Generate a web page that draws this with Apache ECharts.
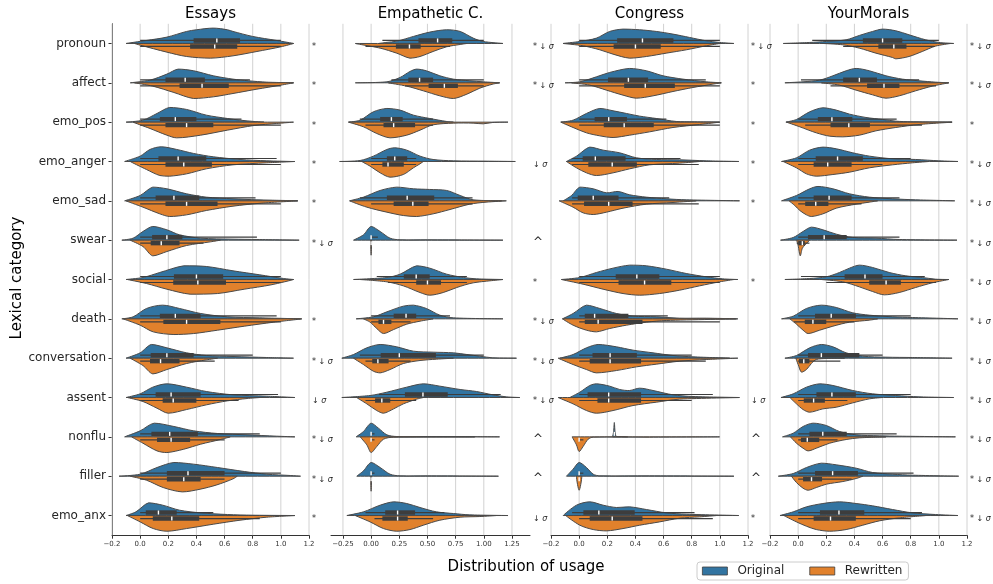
<!DOCTYPE html>
<html><head><meta charset="utf-8">
<script src="https://cdn.jsdelivr.net/npm/echarts@6/dist/echarts.min.js"></script>
<style>html,body{margin:0;padding:0;background:#fff}#c{width:993px;height:584px}</style>
</head><body><div id="c"></div><script>
const categories = ['pronoun','affect','emo_pos','emo_anger','emo_sad','swear','social','death','conversation','assent','nonflu','filler','emo_anx'];
const panelTitles = ['Essays','Empathetic C.','Congress','YourMorals'];
const xTicks = [
  [-0.2,0,0.2,0.4,0.6,0.8,1.0,1.2],
  [-0.25,0,0.25,0.5,0.75,1.0,1.25],
  [-0.2,0,0.2,0.4,0.6,0.8,1.0,1.2],
  [-0.2,0,0.2,0.4,0.6,0.8,1.0,1.2]
];
const xLimits = [[-0.2,1.2],[-0.356,1.41],[-0.2,1.2],[-0.2,1.2]];
const xDecimals = [1,2,1,1];
const legendNames = ['Original','Rewritten'];
const xTitle = 'Distribution of usage';
const yTitle = 'Lexical category';

// half-violin outlines: [value, density] (density in units where one category band = 117.75)
const essaysOrig = [
 [[-0.1,0],[0.045,9],[0.19,19],[0.33,36],[0.4,41],[0.52,46],[0.62,41],[0.66,36],[0.8,21],[0.97,9],[1.09,0]],
 [[-0.07,0],[0.07,8],[0.19,26],[0.27,41],[0.38,36],[0.52,21],[0.66,11],[0.77,6],[0.9,2],[1.09,0]],
 [[-0.1,0],[0.02,6],[0.12,26],[0.21,44],[0.33,38],[0.47,21],[0.62,11],[0.71,6],[0.81,2],[0.88,0]],
 [[-0.11,0],[0,16],[0.07,36],[0.15,44],[0.26,36],[0.38,24],[0.52,14],[0.71,6],[0.9,2],[1.07,0]],
 [[-0.11,0],[0,16],[0.09,41],[0.19,36],[0.33,21],[0.47,11],[0.66,6],[0.83,3],[0.93,2],[1.12,0]],
 [[-0.13,0],[-0.05,6],[0.02,26],[0.09,41],[0.19,31],[0.28,16],[0.43,6],[0.66,3],[0.83,2],[1.13,0]],
 [[-0.1,0],[0.02,6],[0.14,21],[0.31,41],[0.47,39],[0.66,26],[0.85,14],[1.02,3],[1.09,0]],
 [[-0.13,0],[-0.05,6],[0.045,31],[0.16,41],[0.28,31],[0.43,16],[0.62,6],[0.85,3],[1.14,0]],
 [[-0.1,0],[0,16],[0.08,41],[0.19,31],[0.33,16],[0.47,8],[0.66,5],[0.9,2],[1.09,0]],
 [[-0.1,0],[0,11],[0.09,31],[0.19,41],[0.33,31],[0.47,18],[0.66,8],[0.9,4],[1.1,0]],
 [[-0.11,0],[0,18],[0.1,41],[0.24,31],[0.38,18],[0.55,10],[0.76,6],[0.97,2],[1.1,0]],
 [[-0.15,0],[0,6],[0.12,26],[0.24,41],[0.38,36],[0.55,26],[0.74,14],[0.9,6],[1.07,2],[1.14,0]],
 [[-0.1,0],[-0.03,11],[0.06,38],[0.16,31],[0.28,16],[0.43,8],[0.62,3],[0.8,1],[1.1,0]]
];
const essaysRew = [
 [[-0.04,0],[0,5],[0.19,26],[0.33,39],[0.5,44],[0.66,37],[0.83,24],[1.0,10],[1.09,0]],
 [[-0.04,0],[0.09,10],[0.24,29],[0.38,47],[0.52,42],[0.66,32],[0.83,19],[1.0,7],[1.09,0]],
 [[-0.05,0],[0.07,19],[0.19,39],[0.26,47],[0.43,39],[0.62,24],[0.81,10],[0.97,4],[1.09,0]],
 [[-0.07,0],[0.045,24],[0.14,42],[0.21,44],[0.33,37],[0.47,22],[0.66,10],[0.9,4],[1.1,0]],
 [[-0.1,0],[0.02,19],[0.14,39],[0.21,47],[0.33,42],[0.47,29],[0.66,16],[0.86,7],[1.12,0]],
 [[-0.07,0],[0.02,19],[0.09,47],[0.19,34],[0.33,16],[0.5,5],[0.57,0]],
 [[-0.09,0],[0.045,12],[0.19,29],[0.355,44],[0.55,42],[0.74,29],[0.93,16],[1.09,0]],
 [[-0.12,0],[0,19],[0.093,39],[0.24,47],[0.38,44],[0.55,34],[0.74,22],[0.95,10],[1.15,0]],
 [[-0.07,0],[0.02,22],[0.09,47],[0.19,34],[0.33,16],[0.47,5],[0.55,0]],
 [[-0.09,0],[0.02,12],[0.12,32],[0.2,47],[0.33,36],[0.47,22],[0.62,10],[0.76,3],[0.85,0]],
 [[-0.06,0],[0.02,19],[0.12,42],[0.19,47],[0.31,37],[0.43,22],[0.57,8],[0.64,0]],
 [[-0.07,0],[0.045,12],[0.164,34],[0.3,47],[0.426,39],[0.545,26],[0.66,8],[0.69,0]],
 [[-0.09,0],[0,19],[0.093,39],[0.19,47],[0.33,39],[0.52,26],[0.71,14],[0.9,5],[1.1,0]]
];
// boxes: [whisker low, q1, median, q3, whisker high]
const essaysOrigBox = [[0,0.38,0.545,0.71,1.0],[0,0.18,0.32,0.46,0.78],[0,0.14,0.25,0.4,0.72],[0,0.13,0.27,0.47,0.97],[0,0.11,0.24,0.42,0.82],[0,0.085,0.19,0.3,0.83],[0,0.24,0.4,0.59,1.0],[0,0.14,0.25,0.43,0.97],[0,0.075,0.19,0.38,0.8],[0,0.11,0.22,0.43,0.98],[0,0.08,0.21,0.41,0.85],[0,0.19,0.34,0.6,1.0],[0,0.04,0.13,0.26,0.52]];
const essaysRewBox = [[0,0.355,0.53,0.69,1.0],[0,0.28,0.44,0.63,1.0],[0,0.18,0.33,0.52,1.0],[0,0.18,0.31,0.51,1.0],[0,0.18,0.33,0.55,1.0],[0,0.075,0.15,0.28,0.45],[0,0.235,0.41,0.61,1.0],[0,0.165,0.33,0.57,1.0],[0,0.07,0.145,0.28,0.53],[0,0.16,0.235,0.4,0.7],[0,0.12,0.22,0.355,0.6],[0,0.19,0.31,0.43,0.6],[0,0.09,0.225,0.42,0.85]];
const essaysMarks = ['*','*','*','*','*','* ↓ σ','','*','* ↓ σ','↓ σ','* ↓ σ','* ↓ σ','*'];

const empOrig = [
 [[0.07,0],[0.13,3],[0.23,7],[0.375,21],[0.52,34],[0.67,41],[0.79,36],[0.906,16],[0.994,6],[1.17,0]],
 [[-0.14,0],[0.14,3],[0.257,16],[0.345,34],[0.404,41],[0.49,36],[0.61,21],[0.73,11],[0.876,6],[0.994,3],[1.14,0]],
 [[-0.2,0],[-0.097,6],[0.02,31],[0.14,41],[0.257,36],[0.375,21],[0.52,11],[0.67,2],[0.73,0]],
 [[-0.28,0],[-0.097,3],[0.02,16],[0.14,36],[0.21,41],[0.316,34],[0.434,16],[0.55,6],[0.73,2],[1.02,1],[1.28,0]],
 [[-0.19,0],[-0.068,11],[0.08,31],[0.227,41],[0.375,36],[0.52,34],[0.67,31],[0.79,16],[0.906,3],[1.16,0]],
 [[-0.156,0],[-0.068,16],[0,41],[0.08,26],[0.168,6],[0.257,1],[0.5,1],[1.17,0]],
 [[-0.156,0],[0.14,6],[0.257,16],[0.404,41],[0.52,34],[0.67,16],[0.82,6],[0.935,2],[1.17,0]],
 [[-0.133,0],[0.02,6],[0.14,21],[0.286,38],[0.375,41],[0.49,31],[0.61,11],[0.73,3],[1.17,0]],
 [[-0.26,0],[-0.156,11],[-0.038,31],[0.08,41],[0.227,34],[0.375,21],[0.55,18],[0.73,16],[0.85,11],[0.965,6],[1.08,1],[1.29,0]],
 [[-0.26,0],[-0.009,6],[0.14,16],[0.316,31],[0.463,41],[0.61,34],[0.79,24],[0.935,18],[1.08,8],[1.2,2],[1.32,0]],
 [[-0.133,0],[-0.068,16],[0,41],[0.065,26],[0.14,6],[0.227,1],[0.5,1],[1.14,0]],
 [[-0.127,0],[-0.068,16],[0,41],[0.08,26],[0.168,6],[0.257,1],[0.5,1],[1.13,0]],
 [[-0.215,0],[-0.068,11],[0.08,31],[0.2,41],[0.316,36],[0.434,24],[0.58,11],[0.73,6],[0.876,2],[1.215,0]]
];
const empRew = [
 [[-0.14,0],[0.08,14],[0.227,29],[0.345,44],[0.434,39],[0.55,24],[0.67,10],[0.79,3],[0.85,0]],
 [[0.153,0],[0.316,10],[0.463,24],[0.61,39],[0.73,47],[0.85,34],[0.965,16],[1.08,4],[1.14,0]],
 [[-0.2,0],[-0.068,14],[0.05,34],[0.168,47],[0.316,39],[0.434,24],[0.55,8],[0.73,3],[0.906,3],[0.994,5],[1.08,1],[1.215,0]],
 [[-0.083,0],[-0.009,14],[0.08,34],[0.168,47],[0.286,39],[0.375,19],[0.434,7],[0.463,0]],
 [[-0.19,0],[-0.038,19],[0.14,34],[0.286,44],[0.404,47],[0.55,39],[0.7,26],[0.876,10],[1.02,4],[1.2,0]],
 [[-0.004,0],[0,45],[0.004,0]],
 [[-0.097,0],[0.14,7],[0.286,19],[0.434,39],[0.52,47],[0.64,39],[0.76,24],[0.906,10],[1.17,0]],
 [[-0.068,0],[-0.009,10],[0.05,29],[0.11,44],[0.2,32],[0.316,16],[0.434,7],[0.55,0]],
 [[-0.156,0],[-0.068,19],[0.02,39],[0.08,44],[0.168,34],[0.286,16],[0.434,7],[0.58,3],[0.73,0]],
 [[-0.127,0],[-0.038,19],[0.05,39],[0.11,47],[0.2,34],[0.286,19],[0.404,5],[0.463,0]],
 [[-0.097,0],[-0.038,24],[0,47],[0.05,29],[0.11,7],[0.2,1],[0.92,0]],
 [[-0.004,0],[0,45],[0.004,0]],
 [[-0.14,0],[-0.009,19],[0.11,39],[0.227,47],[0.345,42],[0.463,29],[0.61,14],[0.79,5],[0.965,3],[1.11,0]]
];
const empOrigBox = [[0.1,0.42,0.59,0.72,1.0],[0.18,0.33,0.43,0.55,1.0],[-0.1,0.08,0.18,0.28,0.55],[0,0.14,0.21,0.32,0.4],[-0.1,0.14,0.32,0.56,0.9],[0,0,0,0.005,0.06],[0.05,0.29,0.4,0.52,0.85],[0,0.2,0.31,0.4,0.7],[-0.1,0.085,0.25,0.575,1.0],[0.07,0.3,0.46,0.68,1.15],[0,0,0,0.005,0.03],[0,0,0,0.005,0.03],[-0.05,0.125,0.235,0.39,0.65]];
const empRewBox = [[-0.05,0.22,0.34,0.44,0.7],[0.3,0.51,0.65,0.77,1.0],[-0.05,0.11,0.2,0.39,0.55],[0,0.1,0.15,0.29,0.4],[0,0.2,0.37,0.51,0.9],[0,0,0,0,0],[0.15,0.4,0.5,0.62,0.85],[0,0.065,0.11,0.18,0.35],[-0.05,0.01,0.06,0.155,0.35],[-0.05,0.035,0.095,0.17,0.4],[0,0,0,0.005,0.03],[0,0,0,0,0],[0.03,0.1,0.235,0.325,0.55]];
const empMarks = ['* ↓ σ','* ↓ σ','','↓ σ','','^','*','* ↓ σ','* ↓ σ','* ↓ σ','^','^','↓ σ'];

const congOrig = [
 [[-0.113,0],[0.005,6],[0.123,16],[0.217,36],[0.312,43],[0.43,41],[0.548,36],[0.667,28],[0.785,18],[0.903,8],[0.998,3],[1.1,0]],
 [[-0.1,0],[0.005,3],[0.123,18],[0.217,31],[0.359,43],[0.478,36],[0.596,21],[0.738,11],[0.903,3],[1.01,0]],
 [[-0.13,0],[-0.043,6],[0.052,26],[0.147,41],[0.241,34],[0.336,26],[0.43,18],[0.548,11],[0.619,6],[0.69,2],[0.75,1],[1.0,0]],
 [[-0.09,0],[-0.019,16],[0.076,43],[0.17,34],[0.288,26],[0.407,11],[0.548,6],[0.714,5],[0.903,2],[1.135,0]],
 [[-0.113,0],[-0.054,16],[0.005,41],[0.1,36],[0.194,24],[0.277,28],[0.359,18],[0.478,11],[0.619,6],[0.761,3],[1.14,0]],
 null,
 [[-0.125,0],[0.005,6],[0.123,21],[0.241,34],[0.359,43],[0.478,41],[0.619,31],[0.761,18],[0.903,8],[1.02,2],[1.128,0]],
 [[-0.118,0],[-0.043,16],[0.052,41],[0.147,31],[0.265,16],[0.383,8],[0.548,6],[0.714,2],[0.903,2],[1.116,0]],
 [[-0.137,0],[-0.043,11],[0.052,31],[0.135,41],[0.265,34],[0.383,24],[0.525,16],[0.667,8],[0.809,4],[1.07,0]],
 [[-0.066,0],[0.005,16],[0.076,36],[0.123,41],[0.217,34],[0.288,24],[0.359,21],[0.43,28],[0.525,21],[0.667,8],[0.809,3],[1.135,0]],
 [[0.238,0],[0.245,16],[0.25,43],[0.255,16],[0.262,2],[0.3,1],[0.345,0]],
 [[-0.09,0],[-0.043,21],[0,41],[0.052,26],[0.1,6],[0.147,1],[0.5,1],[1.1,0]],
 [[-0.113,0],[-0.019,31],[0.076,41],[0.17,31],[0.265,24],[0.359,26],[0.478,18],[0.619,8],[0.761,4],[1.135,0]]
];
const congRew = [
 [[-0.113,0],[0.028,7],[0.147,19],[0.241,32],[0.359,44],[0.478,39],[0.619,29],[0.761,19],[0.903,7],[0.998,0]],
 [[-0.054,0],[0.076,7],[0.194,22],[0.312,37],[0.407,46],[0.525,39],[0.667,26],[0.809,14],[0.95,4],[1.01,0]],
 [[-0.13,0],[-0.043,16],[0.052,32],[0.147,41],[0.241,46],[0.359,39],[0.501,29],[0.667,16],[0.856,7],[0.998,0]],
 [[-0.09,0],[-0.019,19],[0.052,34],[0.123,42],[0.241,34],[0.359,22],[0.501,10],[0.714,5],[0.856,0]],
 [[-0.142,0],[-0.043,19],[0.028,36],[0.1,41],[0.194,34],[0.312,22],[0.478,10],[0.667,5],[0.832,0]],
 null,
 [[-0.125,0],[0.028,14],[0.17,29],[0.312,42],[0.43,47],[0.572,42],[0.714,32],[0.856,19],[0.998,7],[1.1,0]],
 [[-0.118,0],[-0.043,19],[0.052,34],[0.123,39],[0.217,29],[0.336,19],[0.478,10],[0.619,5],[1.128,0]],
 [[-0.149,0],[-0.043,19],[0.052,34],[0.123,44],[0.265,37],[0.407,26],[0.548,18],[0.714,9],[0.903,4],[1.128,0]],
 [[-0.149,0],[-0.043,19],[0.052,39],[0.123,47],[0.241,39],[0.383,24],[0.548,14],[0.714,5],[1.14,0]],
 [[-0.05,0],[-0.019,24],[0,44],[0.028,29],[0.064,7],[0.1,1],[0.5,1],[0.998,0]],
 [[-0.019,0],[0,42],[0.019,0]],
 [[-0.095,0],[0.005,29],[0.1,42],[0.194,46],[0.312,39],[0.43,29],[0.572,19],[0.714,8],[0.856,4],[0.974,0]]
];
const congOrigBox = [[0,0.27,0.45,0.67,1.0],[0,0.205,0.35,0.49,0.9],[0,0.11,0.21,0.34,0.62],[-0.05,0.025,0.115,0.33,0.72],[-0.05,-0.01,0.1,0.28,0.64],null,[0,0.26,0.41,0.57,1.0],[0,0.04,0.11,0.35,0.63],[0,0.095,0.22,0.41,0.8],[0,0.06,0.21,0.44,0.95],[0.25,0.25,0.25,0.25,0.25],[0,0,0,0.005,0.03],[-0.05,0.03,0.14,0.395,0.82]];
const congRewBox = [[0,0.245,0.4,0.58,1.0],[0,0.32,0.47,0.68,1.0],[0,0.175,0.32,0.53,1.0],[-0.05,0.065,0.235,0.41,0.85],[-0.05,0.035,0.21,0.38,0.85],null,[0,0.28,0.465,0.655,1.0],[0,0.04,0.135,0.45,1.0],[0,0.075,0.22,0.44,0.9],[0,0.13,0.21,0.44,0.8],[0,0,0,0.005,0.03],[0,0,0,0,0],[0,0.075,0.235,0.45,0.95]];
const congMarks = ['* ↓ σ','*','*','*','*','','*','','','↓ σ','^','^','*'];

const ymOrig = [
 [[-0.106,0],[0.082,3],[0.2,6],[0.341,11],[0.435,24],[0.529,36],[0.6,43],[0.694,38],[0.788,26],[0.906,11],[1.0,3],[1.106,0]],
 [[-0.094,0],[0.035,3],[0.153,8],[0.247,21],[0.341,36],[0.412,43],[0.506,36],[0.624,21],[0.741,11],[0.859,6],[0.976,2],[1.07,0]],
 [[-0.087,0],[-0.012,8],[0.082,31],[0.176,43],[0.271,36],[0.365,24],[0.482,14],[0.6,8],[0.694,3],[0.8,1],[1.094,0]],
 [[-0.118,0],[-0.012,11],[0.082,34],[0.176,43],[0.271,38],[0.388,26],[0.506,16],[0.671,8],[0.835,6],[1.0,2],[1.136,0]],
 [[-0.118,0],[-0.012,16],[0.082,36],[0.141,43],[0.247,36],[0.365,21],[0.506,11],[0.671,6],[0.835,3],[1.113,0]],
 [[-0.125,0],[-0.035,8],[0.035,26],[0.094,39],[0.176,31],[0.271,18],[0.388,8],[0.553,6],[0.718,2],[1.129,0]],
 [[-0.094,0],[0.082,3],[0.2,8],[0.294,21],[0.365,34],[0.435,43],[0.529,36],[0.647,21],[0.765,11],[0.882,6],[0.976,1],[1.07,0]],
 [[-0.118,0],[-0.035,8],[0.059,31],[0.165,41],[0.271,34],[0.388,18],[0.506,11],[0.671,6],[0.812,4],[1.136,0]],
 [[-0.094,0],[-0.012,8],[0.082,31],[0.165,41],[0.247,34],[0.341,16],[0.459,6],[0.624,3],[0.812,2],[1.094,0]],
 [[-0.122,0],[-0.035,11],[0.059,31],[0.153,41],[0.247,36],[0.388,21],[0.529,11],[0.694,6],[0.859,2],[1.106,0]],
 [[-0.111,0],[-0.035,11],[0.035,31],[0.106,41],[0.2,34],[0.294,16],[0.412,6],[0.576,3],[0.718,2],[1.118,0]],
 [[-0.141,0],[-0.035,8],[0.059,26],[0.165,39],[0.271,34],[0.412,24],[0.529,11],[0.671,6],[0.812,3],[1.141,0]],
 [[-0.129,0],[-0.035,11],[0.059,26],[0.176,36],[0.294,41],[0.412,36],[0.529,29],[0.671,18],[0.812,8],[0.976,3],[1.136,0]]
];
const ymRew = [
 [[0.176,0],[0.318,4],[0.435,14],[0.553,29],[0.671,42],[0.694,46],[0.788,39],[0.882,24],[0.976,8],[1.082,0]],
 [[0.165,0],[0.294,7],[0.412,22],[0.529,36],[0.624,46],[0.718,39],[0.835,24],[0.953,10],[1.07,0]],
 [[-0.082,0],[0.012,14],[0.129,32],[0.224,42],[0.318,44],[0.435,39],[0.553,26],[0.694,16],[0.859,7],[1.094,0]],
 [[-0.106,0],[-0.012,19],[0.059,37],[0.129,44],[0.247,39],[0.365,32],[0.506,19],[0.671,10],[0.812,4],[0.929,0]],
 [[-0.064,0],[-0.024,14],[0.012,29],[0.059,42],[0.094,47],[0.176,39],[0.271,22],[0.412,10],[0.506,4],[0.565,0]],
 [[-0.01,0],[0.0,16],[0.015,47],[0.03,24],[0.05,14],[0.08,0]],
 [[0.165,0],[0.318,7],[0.435,22],[0.529,36],[0.612,46],[0.718,39],[0.835,24],[0.953,10],[1.07,0]],
 [[-0.059,0],[-0.012,16],[0.035,34],[0.071,44],[0.153,34],[0.247,22],[0.365,10],[0.506,4],[0.565,0]],
 [[-0.016,0],[0.0,19],[0.024,42],[0.059,34],[0.094,16],[0.129,4],[0.2,1],[0.33,0]],
 [[-0.059,0],[-0.012,19],[0.035,36],[0.082,44],[0.176,34],[0.271,29],[0.388,16],[0.506,4],[0.6,0]],
 [[-0.054,0],[-0.012,19],[0.035,34],[0.071,42],[0.129,34],[0.224,19],[0.341,8],[0.435,3],[0.624,0]],
 [[-0.047,0],[-0.012,19],[0.035,36],[0.071,42],[0.129,34],[0.2,24],[0.318,16],[0.412,7],[0.459,0]],
 [[-0.101,0],[-0.012,19],[0.059,32],[0.129,42],[0.224,47],[0.341,42],[0.459,29],[0.576,16],[0.718,7],[0.906,0]]
];
const ymOrigBox = [[0.1,0.46,0.6,0.74,1.0],[0.02,0.32,0.435,0.56,0.86],[0,0.14,0.24,0.385,0.7],[0,0.125,0.28,0.46,0.8],[0,0.11,0.22,0.38,0.72],[0,0.07,0.185,0.345,0.72],[0.02,0.33,0.475,0.6,0.9],[0,0.12,0.235,0.41,0.8],[0,0.07,0.165,0.435,0.6],[0,0.13,0.24,0.41,0.8],[0,0.08,0.175,0.345,0.7],[0,0.12,0.245,0.425,0.82],[0,0.155,0.29,0.47,0.88]];
const ymRewBox = [[0.32,0.57,0.68,0.77,0.97],[0.23,0.49,0.61,0.72,0.98],[0.05,0.23,0.36,0.51,0.88],[0,0.11,0.21,0.38,0.6],[0,0.05,0.125,0.215,0.45],[-0.01,0,0.03,0.047,0.08],[0.2,0.505,0.625,0.73,0.98],[-0.03,0.047,0.105,0.2,0.4],[0,0.005,0.04,0.08,0.3],[0,0.04,0.11,0.19,0.35],[0,0.02,0.065,0.15,0.28],[0,0.035,0.095,0.17,0.38],[0,0.11,0.23,0.41,0.8]];
const ymMarks = ['* ↓ σ','* ↓ σ','*','* ↓ σ','* ↓ σ','* ↓ σ','* ↓ σ','* ↓ σ','* ↓ σ','* ↓ σ','* ↓ σ','* ↓ σ','* ↓ σ'];

const panels = [
  {orig: essaysOrig, rew: essaysRew, origBox: essaysOrigBox, rewBox: essaysRewBox, marks: essaysMarks},
  {orig: empOrig, rew: empRew, origBox: empOrigBox, rewBox: empRewBox, marks: empMarks},
  {orig: congOrig, rew: congRew, origBox: congOrigBox, rewBox: congRewBox, marks: congMarks},
  {orig: ymOrig, rew: ymRew, origBox: ymOrigBox, rewBox: ymRewBox, marks: ymMarks}
];

const DENSITY_PER_BAND = 117.75;
const FONT = 'DejaVu Sans';
const BLUE = '#3274a1', ORANGE = '#e1812c', EDGE = '#4a4a4a', BOXC = '#3d3d3d', GRIDC = '#d2d2d2', AXC = '#333333', TXT = '#262626';
const gridLefts = [112, 331, 551, 770];
const gridWidths = [197, 199, 197, 197];

function fmt(d) { return v => (v < -1e-9 ? '\u2212' : '') + Math.abs(v).toFixed(d); }

function violinRender(panel) {
  return function (params, api) {
    const i = api.value(1);
    const yc = api.coord([0, i])[1];
    const band = api.size([0, 1])[1];
    const k = band / DENSITY_PER_BAND;
    const cs = params.coordSys;
    const kids = [];
    const halves = [[panel.orig[i], -1, BLUE, panel.origBox[i]], [panel.rew[i], 1, ORANGE, panel.rewBox[i]]];
    halves.forEach(([pts, s, col]) => {
      if (!pts) return;
      const P = pts.map(p => [api.coord([p[0], i])[0], yc + s * p[1] * k]);
      let xmin = Infinity, xmax = -Infinity, hmax = 0;
      pts.forEach((p, j) => { xmin = Math.min(xmin, P[j][0]); xmax = Math.max(xmax, P[j][0]); hmax = Math.max(hmax, p[1] * k); });
      const con = s < 0 ? [[xmin, yc - hmax], [xmax, yc]] : [[xmin, yc], [xmax, yc + hmax]];
      kids.push({type: 'polygon', shape: {points: P, smooth: 0.3, smoothConstraint: con},
        style: {fill: col, stroke: EDGE, lineWidth: 1}});
    });
    halves.forEach(([pts, s, col, b]) => {
      if (!b) return;
      const yb = yc + s * 3;
      const X = b.map(v => api.coord([v, i])[0]);
      if (X[4] - X[0] > 0.5) kids.push({type: 'line', shape: {x1: X[0], y1: yb, x2: X[4], y2: yb}, style: {stroke: BOXC, lineWidth: 1.2}});
      if (X[3] - X[1] > 0.5) kids.push({type: 'rect', shape: {x: X[1], y: yb - 2.2, width: X[3] - X[1], height: 4.4}, style: {fill: BOXC}});
      kids.push({type: 'line', shape: {x1: X[2], y1: yb - 2, x2: X[2], y2: yb + 2}, style: {stroke: '#ffffff', lineWidth: 1.4}});
    });
    const m = panel.marks[i];
    if (m) {
      const tx = cs.x + cs.width + 3;
      if (m === '^') {
        kids.push({type: 'text', style: {text: '^', x: tx, y: yc + 3, fontSize: 12, fontFamily: FONT, fill: TXT, align: 'left', verticalAlign: 'middle'}});
      } else {
        kids.push({type: 'text', style: {text: m.replace('σ', '{s|σ}'), x: tx, y: yc + 3.5, fontSize: 8, fontFamily: FONT, fill: TXT, align: 'left', verticalAlign: 'middle',
          rich: {s: {fontStyle: 'italic', fontSize: 8, fontFamily: FONT, fill: TXT}}}});
      }
    }
    return {type: 'group', children: kids};
  };
}

function gridRender(params, api) {
  const x = api.coord([api.value(0), 0])[0];
  const cs = params.coordSys;
  return {type: 'line', shape: {x1: x, y1: cs.y, x2: x, y2: cs.y + cs.height}, style: {stroke: GRIDC, lineWidth: 1}};
}

const grids = [], xAxes = [], yAxes = [], series = [];
for (let p = 0; p < 4; p++) {
  grids.push({left: gridLefts[p], width: gridWidths[p], top: 23.8, bottom: 48.8});
  xAxes.push({gridIndex: p, type: 'value', min: xLimits[p][0], max: xLimits[p][1],
    axisLine: {show: true, onZero: false, lineStyle: {color: AXC, width: 1}},
    axisTick: {show: true, length: 3.5, customValues: xTicks[p], lineStyle: {color: AXC, width: 1}},
    axisLabel: {customValues: xTicks[p], formatter: fmt(xDecimals[p]), fontSize: 7, color: AXC, fontFamily: FONT, margin: 5},
    splitLine: {show: false}});
  yAxes.push({gridIndex: p, type: 'category', data: categories, inverse: true,
    axisLine: {show: p === 0, onZero: false, lineStyle: {color: AXC, width: 1}},
    axisTick: {show: p === 0, length: 3.5, alignWithLabel: true, lineStyle: {color: AXC}},
    axisLabel: {show: p === 0, fontSize: 12, color: TXT, fontFamily: FONT, margin: 6},
    splitLine: {show: false}});
  series.push({type: 'custom', xAxisIndex: p, yAxisIndex: p, z: 1, silent: true,
    data: xTicks[p].map(v => [v, 0]), renderItem: gridRender});
  series.push({type: 'custom', xAxisIndex: p, yAxisIndex: p, z: 3, silent: true,
    data: categories.map((c, i) => [0, i]), encode: {x: 0, y: 1}, renderItem: violinRender(panels[p]), clip: false});
}
series.push({name: legendNames[0], type: 'bar', xAxisIndex: 0, yAxisIndex: 0, data: [], itemStyle: {color: BLUE}});
series.push({name: legendNames[1], type: 'bar', xAxisIndex: 0, yAxisIndex: 0, data: [], itemStyle: {color: ORANGE}});

const graphics = panelTitles.map((t, p) => ({type: 'text', x: gridLefts[p] + gridWidths[p] / 2, y: 14.5,
  style: {text: t, fontSize: 15, fontFamily: FONT, fill: '#000', align: 'center', verticalAlign: 'middle'}}));
graphics.push({type: 'text', x: 526, y: 567, style: {text: xTitle, fontSize: 15, fontFamily: FONT, fill: '#000', align: 'center', verticalAlign: 'middle'}});
graphics.push({type: 'text', x: 17, y: 278, rotation: Math.PI / 2, style: {text: yTitle, fontSize: 15, fontFamily: FONT, fill: '#000', align: 'center', verticalAlign: 'middle'}});

const chart = echarts.init(document.getElementById('c'), null, {renderer: 'canvas'});
chart.setOption({
  animation: false,
  backgroundColor: '#ffffff',
  grid: grids, xAxis: xAxes, yAxis: yAxes, series: series,
  legend: {data: legendNames, left: 697, top: 562, orient: 'horizontal', icon: 'rect', itemWidth: 25, itemHeight: 8, itemGap: 25,
    padding: [3, 6, 3, 5], borderColor: '#cccccc', borderWidth: 1, borderRadius: 3, backgroundColor: '#ffffff', selectedMode: false,
    itemStyle: {borderColor: '#404040', borderWidth: 0.8},
    textStyle: {fontSize: 12, color: TXT, fontFamily: FONT, padding: [0, 0, 0, 5]}},
  graphic: graphics
});
</script></body></html>
